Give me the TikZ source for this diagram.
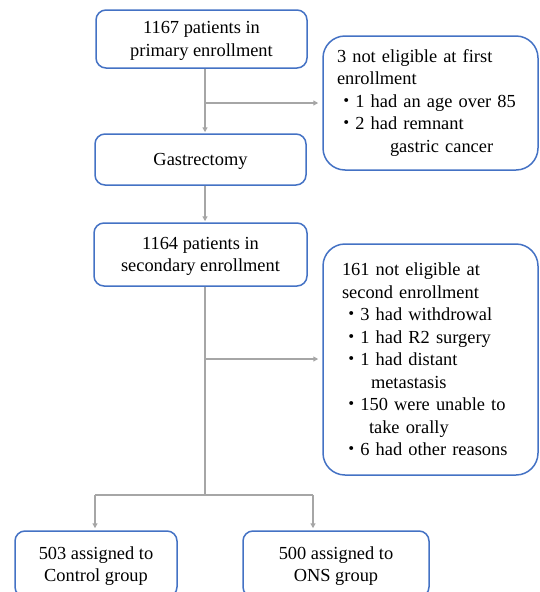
\documentclass[tikz,border=0pt]{standalone}
\usepackage{fontspec}
\setmainfont{Liberation Serif}
\newfontfamily\cjk{Noto Sans CJK JP}
\usetikzlibrary{arrows.meta}
\definecolor{boxblue}{HTML}{4472C4}
\definecolor{linegray}{HTML}{A6A6A6}
\newcommand{\bul}{{\cjk ・}}
\begin{document}
\begin{tikzpicture}[x=1pt,y=-1pt,
  font=\fontsize{18.4}{22.5}\selectfont,
  mainbox/.style={draw=boxblue, line width=1.5pt, rounded corners=10pt, align=center, inner sep=0pt, text depth=0pt},
  exclbox/.style={draw=boxblue, line width=1.5pt, rounded corners=22pt, align=left, inner ysep=0pt},
  conn/.style={draw=linegray, line width=1.2pt, -{Triangle[length=5pt,width=5pt]}},
  plainline/.style={draw=linegray, line width=1.2pt}]
\useasboundingbox (0,0) rectangle (539,592);
% main boxes
\node[mainbox, minimum width=211pt, minimum height=58pt] (p1) at (201.5,39) {1167 patients in\\primary enrollment};
\node[mainbox, minimum width=211pt, minimum height=51pt] (g) at (200.5,159.5) {Gastrectomy};
\node[mainbox, minimum width=213pt, minimum height=63pt] (s) at (200.5,254.5) {1164 patients in\\secondary enrollment};
\node[mainbox, minimum width=162pt, minimum height=66pt] (c) at (96,564) {503 assigned to\\Control group};
\node[mainbox, minimum width=186pt, minimum height=66pt] (o) at (336,564) {500 assigned to\\ONS group};
% exclusion boxes
\node[exclbox, inner xsep=14pt, text width=187pt, minimum height=134pt] (e1) at (430.5,103)
  {3 not eligible at first\\enrollment\\\bul 1 had an age over 85\\\bul 2 had remnant\\\hspace*{53pt}gastric cancer};
\node[exclbox, inner xsep=19pt, text width=177pt, minimum height=231pt] (e2) at (430.5,359.5)
  {161 not eligible at\\second enrollment\\\bul 3 had withdrowal\\\bul 1 had R2 surgery\\\bul 1 had distant\\\hspace*{29pt}metastasis\\\bul 150 were unable to\\\hspace*{27pt}take orally\\\bul 6 had other reasons};
% connectors
\coordinate (trunk) at (205,0);
\coordinate (b1) at (205,103);
\coordinate (b2) at (205,359);
\coordinate (split) at (205,495);
\coordinate (lft) at (95,495);
\coordinate (rgt) at (313,495);
\draw[conn, shorten >=1pt] (trunk |- p1.south) -- (trunk |- g.north);
\draw[conn, shorten >=4pt] (b1) -- (b1 -| e1.west);
\draw[conn, shorten >=1pt] (trunk |- g.south) -- (trunk |- s.north);
\draw[plainline] (trunk |- s.south) -- (split);
\draw[conn, shorten >=4pt] (b2) -- (b2 -| e2.west);
\draw[plainline] (lft) -- (rgt);
\draw[conn, shorten >=2pt] (lft) -- (lft |- c.north);
\draw[conn, shorten >=2pt] (rgt) -- (rgt |- o.north);
\end{tikzpicture}
\end{document}
